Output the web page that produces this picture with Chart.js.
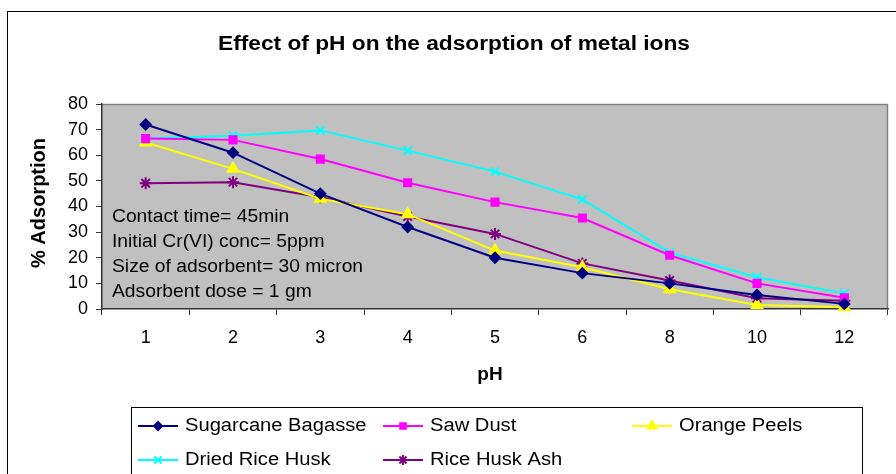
<!DOCTYPE html>
<html>
<head>
<meta charset="utf-8">
<script src="https://cdn.jsdelivr.net/npm/chart.js@4/dist/chart.umd.min.js"></script>
<style>
	body { margin: 0; background: #fff; }
	#wrap { width: 896px; height: 474px; position: relative; }
</style>
</head>
<body>
<div id="wrap"><canvas id="phChart"></canvas></div>
<script>
// pH values (category axis)
var phLabels = ['1', '2', '3', '4', '5', '6', '8', '10', '12'];

// % adsorption per adsorbent
var sugarcaneBagasse = [72, 61, 45, 32, 20, 14, 10, 5.5, 2];
var sawDust = [66.5, 66, 58.5, 49.3, 41.7, 35.5, 21, 10, 4.4];
var orangePeels = [65, 54.7, 43, 37, 22.8, 16.3, 7.7, 1.6, 0.7];
var driedRiceHusk = [66.5, 67.6, 69.7, 61.8, 53.6, 42.8, 22, 12.4, 6.1];
var riceHuskAsh = [49.1, 49.5, 43.6, 36.1, 29.3, 17.8, 11.1, 4.2, 3.2];

var yTicks = [0, 10, 20, 30, 40, 50, 60, 70, 80];

var notes = ['Contact time= 45min', 'Initial Cr(VI) conc= 5ppm', 'Size of adsorbent= 30 micron', 'Adsorbent dose = 1 gm'];

var FONT = '"Liberation Sans", Arial, sans-serif';

function series(label, data, color, style, radius) {
	return {
		label: label,
		data: data,
		borderColor: color,
		backgroundColor: color,
		borderWidth: 2,
		pointStyle: style,
		pointRadius: radius,
		pointHoverRadius: radius,
		pointBorderWidth: 2,
		tension: 0,
		clip: false
	};
}

// text a bit wider than the font, like the stretched original
function wideText(ctx, text, x, y, sx) {
	ctx.save();
	ctx.translate(x, y);
	ctx.scale(sx, 1);
	ctx.fillText(text, 0, 0);
	ctx.restore();
}

// frame, plot background, title, notes, axis titles and legend
var excelLook = {
	id: 'excelLook',
	beforeDraw: function(chart) {
		var ctx = chart.ctx, a = chart.chartArea;
		ctx.save();
		ctx.fillStyle = '#fff';
		ctx.fillRect(0, 0, chart.width, chart.height);
		// outer frame
		ctx.strokeStyle = '#000';
		ctx.lineWidth = 1;
		ctx.strokeRect(7.5, 11.5, 900, 500);
		// plot area
		ctx.fillStyle = '#c0c0c0';
		ctx.fillRect(a.left, a.top, a.right - a.left, a.bottom - a.top);
		ctx.strokeStyle = '#808080';
		ctx.lineWidth = 1.5;
		ctx.beginPath();
		ctx.moveTo(a.left, a.top + 0.5);
		ctx.lineTo(a.right - 0.5, a.top + 0.5);
		ctx.lineTo(a.right - 0.5, a.bottom);
		ctx.stroke();
		// title
		ctx.fillStyle = '#000';
		ctx.font = 'bold 20px ' + FONT;
		ctx.textAlign = 'center';
		ctx.textBaseline = 'middle';
		var title = 'Effect of pH on the adsorption of metal ions';
		wideText(ctx, title, 454, 44, 472 / ctx.measureText(title).width);
		// axis titles
		ctx.font = 'bold 19px ' + FONT;
		ctx.fillText('pH', 490, 375);
		ctx.save();
		ctx.translate(39, 203);
		ctx.rotate(-Math.PI / 2);
		ctx.font = 'bold 20px ' + FONT;
		ctx.fillText('% Adsorption', 0, 0);
		ctx.restore();
		// notes inside plot
		ctx.font = '18px ' + FONT;
		ctx.textAlign = 'left';
		for (var i = 0; i < notes.length; i++) {
			wideText(ctx, notes[i], 112, 217 + i * 25, 1.07);
		}
		ctx.restore();
	},
	afterDraw: function(chart) {
		var ctx = chart.ctx;
		ctx.save();
		ctx.strokeStyle = '#000';
		ctx.lineWidth = 1;
		ctx.strokeRect(131.5, 407.5, 731, 100);
		var cols = [138, 383, 632];
		var rows = [426, 460];
		var ds = chart.data.datasets;
		ctx.font = '18px ' + FONT;
		ctx.textBaseline = 'middle';
		ctx.textAlign = 'left';
		for (var i = 0; i < ds.length; i++) {
			var x0 = cols[i % 3], y = rows[Math.floor(i / 3)];
			ctx.strokeStyle = ds[i].borderColor;
			ctx.fillStyle = ds[i].borderColor;
			ctx.lineWidth = 2;
			ctx.beginPath();
			ctx.moveTo(x0, y);
			ctx.lineTo(x0 + 40, y);
			ctx.stroke();
			Chart.helpers.drawPoint(ctx, {
				pointStyle: ds[i].pointStyle,
				radius: ds[i].pointRadius - 1,
				borderWidth: 1.5,
				rotation: 0
			}, x0 + 20, y);
			ctx.fillStyle = '#000';
			wideText(ctx, ds[i].label, x0 + 47, y, 1.12);
		}
		ctx.restore();
	}
};

var ctxPh = document.getElementById('phChart').getContext('2d');
var phChart = new Chart(ctxPh, {
	type: 'line',
	data: {
		labels: phLabels,
		datasets: [
			series('Sugarcane Bagasse', sugarcaneBagasse, '#000080', 'rectRot', 5),
			series('Saw Dust', sawDust, '#ff00ff', 'rect', 5),
			series('Orange Peels', orangePeels, '#ffff00', 'triangle', 6),
			series('Dried Rice Husk', driedRiceHusk, '#00ffff', 'crossRot', 6),
			series('Rice Husk Ash', riceHuskAsh, '#800080', 'star', 6)
		]
	},
	options: {
		responsive: true,
		maintainAspectRatio: false,
		animation: false,
		layout: { padding: { left: 60, top: 104, right: 1, bottom: 0 } },
		plugins: {
			legend: { display: false },
			title: { display: false },
			tooltip: { enabled: false }
		},
		scales: {
			x: {
				offset: true,
				grid: { offset: true, drawOnChartArea: false, tickLength: 6, color: '#333' },
				border: { color: '#333', width: 1.5 },
				ticks: { color: '#000', font: { family: FONT, size: 18 }, padding: 12, maxRotation: 0 },
				afterFit: function(scale) { scale.height = 165; }
			},
			y: {
				min: 0,
				max: 80,
				afterBuildTicks: function(scale) {
					scale.ticks = yTicks.map(function(v) { return { value: v }; });
				},
				grid: { drawOnChartArea: false, tickLength: 6, color: '#333' },
				border: { color: '#333', width: 1.5 },
				ticks: { color: '#000', font: { family: FONT, size: 18 }, padding: 8 },
				afterFit: function(scale) { scale.width = 42; }
			}
		}
	},
	plugins: [excelLook]
});
</script>
</body>
</html>
